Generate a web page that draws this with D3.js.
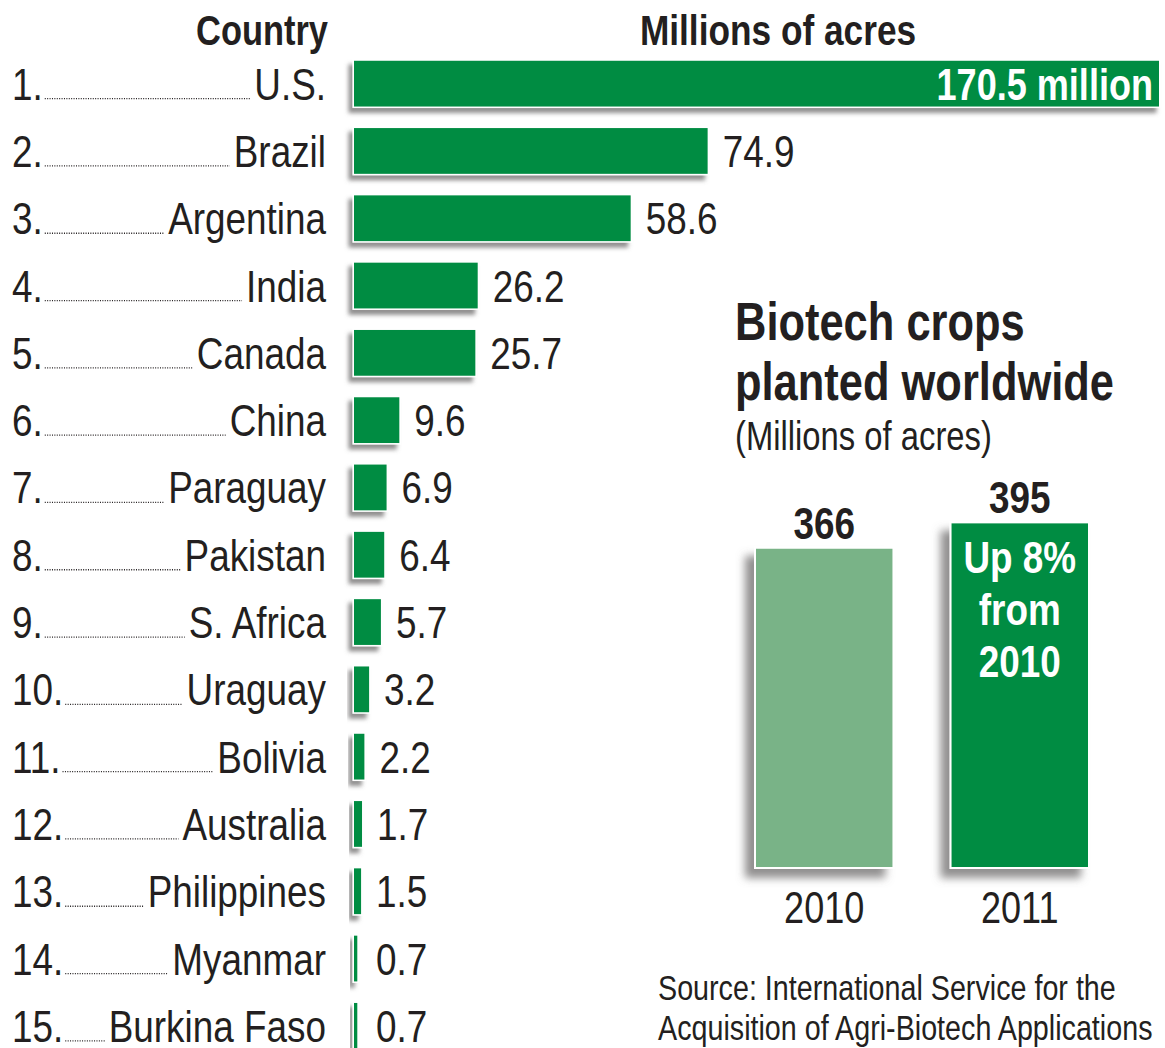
<!DOCTYPE html>
<html>
<head>
<meta charset="utf-8">
<script src="https://cdn.jsdelivr.net/npm/d3@7"></script>
<style>
body { margin: 0; background: #fff; }
text { font-family: 'Liberation Sans', Arial, sans-serif; fill: #231f20; }
</style>
</head>
<body>
<div id="chart"></div>
<script>
var countries = ["U.S.", "Brazil", "Argentina", "India", "Canada", "China", "Paraguay", "Pakistan",
  "S. Africa", "Uraguay", "Bolivia", "Australia", "Philippines", "Myanmar", "Burkina Faso"];
var acres = [170.5, 74.9, 58.6, 26.2, 25.7, 9.6, 6.9, 6.4, 5.7, 3.2, 2.2, 1.7, 1.5, 0.7, 0.7];
var years = ["2010", "2011"];
var totals = [366, 395];
var note = ["Up 8%", "from", "2010"];
var source = ["Source: International Service for the", "Acquisition of Agri-Biotech Applications"];

var width = 1165, height = 1048;
var green = "#008c42", lightGreen = "#79b387";
var squeeze = 0.82;   // condensed type look

var svg = d3.select("#chart").append("svg")
    .attr("width", width)
    .attr("height", height);

// put text at x,y and squeeze it horizontally
function at(x, y) {
  return "translate(" + x + "," + y + ") scale(" + squeeze + ",1)";
}

var defs = svg.append("defs");
function shadow(id, dx, dy, sd) {
  defs.append("filter").attr("id", id)
      .attr("x", "-30%").attr("y", "-30%").attr("width", "160%").attr("height", "170%")
    .append("feDropShadow")
      .attr("dx", dx).attr("dy", dy).attr("stdDeviation", sd)
      .attr("flood-color", "#6d6a6a").attr("flood-opacity", 0.75);
}
shadow("sh-small", -4, 5, 2);
shadow("sh-big", -9, 9, 4);

// ---- left: ranking of countries
var x0 = 354;
var x = d3.scaleLinear().domain([0, 170.5]).range([0, 805]);
var y = d3.scaleBand()
    .domain(countries)
    .range([50, 1059.5])
    .paddingInner(0.32)
    .paddingOuter(0.16);

svg.append("text")
    .attr("transform", at(328, 45))
    .attr("text-anchor", "end")
    .style("font-size", "42px").style("font-weight", "bold")
    .text("Country");

svg.append("text")
    .attr("transform", at(778, 45))
    .attr("text-anchor", "middle")
    .style("font-size", "43px").style("font-weight", "bold")
    .text("Millions of acres");

var rows = svg.selectAll(".row")
    .data(countries)
  .enter().append("g")
    .attr("class", "row")
    .attr("transform", function(d) { return "translate(0," + (y(d) + y.bandwidth() / 2) + ")"; });

// white edge + shadow, then the green bar on top
rows.append("rect")
    .attr("x", x0 - 1.5)
    .attr("y", -y.bandwidth() / 2 - 1.5)
    .attr("width", function(d, i) { return x(acres[i]) + 3; })
    .attr("height", y.bandwidth() + 3)
    .attr("fill", "#fff")
    .attr("filter", "url(#sh-small)");

rows.append("rect")
    .attr("x", x0)
    .attr("y", -y.bandwidth() / 2)
    .attr("width", function(d, i) { return x(acres[i]); })
    .attr("height", y.bandwidth())
    .attr("fill", green);

var rank = rows.append("text")
    .attr("transform", at(12, 16))
    .style("font-size", "45px")
    .text(function(d, i) { return (i + 1) + "."; });

var label = rows.append("text")
    .attr("transform", at(326, 16))
    .attr("text-anchor", "end")
    .style("font-size", "45px")
    .text(function(d) { return d; });

// dotted leaders between rank and country
var rankNodes = rank.nodes(), labelNodes = label.nodes();
rows.each(function(d, i) {
  var start = 12 + rankNodes[i].getComputedTextLength() * squeeze + 2;
  var end = 326 - labelNodes[i].getComputedTextLength() * squeeze - 4;
  d3.select(this).append("line")
      .attr("x1", start).attr("x2", end)
      .attr("y1", 15).attr("y2", 15)
      .attr("stroke", "#231f20")
      .attr("stroke-width", 1.3)
      .attr("stroke-dasharray", "1,1.4");
});

rows.append("text")
    .attr("transform", function(d, i) {
      var px = i === 0 ? x0 + x(acres[i]) - 6 : Math.max(x0 + x(acres[i]) + 15, 376);
      return at(px, 16);
    })
    .attr("text-anchor", function(d, i) { return i === 0 ? "end" : "start"; })
    .style("font-size", function(d, i) { return i === 0 ? "44px" : "45px"; })
    .style("font-weight", function(d, i) { return i === 0 ? "bold" : "normal"; })
    .style("fill", function(d, i) { return i === 0 ? "#fff" : null; })
    .text(function(d, i) { return i === 0 ? acres[i] + " million" : acres[i].toFixed(1); });

// ---- right: totals
svg.append("text")
    .attr("transform", at(735, 340))
    .style("font-size", "53px").style("font-weight", "bold")
    .text("Biotech crops");
svg.append("text")
    .attr("transform", at(735, 400))
    .style("font-size", "53px").style("font-weight", "bold")
    .text("planted worldwide");
svg.append("text")
    .attr("transform", at(735, 450))
    .style("font-size", "40px")
    .text("(Millions of acres)");

var xb = d3.scaleBand().domain(years).range([755, 1089]).paddingInner(0.292);
var yb = d3.scaleLinear().domain([0, 400]).range([868, 518]);

var cols = svg.selectAll(".col")
    .data(years)
  .enter().append("g")
    .attr("class", "col");

cols.append("rect")
    .attr("x", function(d) { return xb(d); })
    .attr("y", function(d, i) { return yb(totals[i]); })
    .attr("width", xb.bandwidth())
    .attr("height", function(d, i) { return yb(0) - yb(totals[i]); })
    .attr("fill", function(d, i) { return i === 0 ? lightGreen : green; })
    .attr("stroke", "#fff")
    .attr("stroke-width", 2)
    .attr("filter", "url(#sh-big)");

cols.append("text")
    .attr("transform", function(d, i) { return at(xb(d) + xb.bandwidth() / 2, yb(totals[i]) - 9); })
    .attr("text-anchor", "middle")
    .style("font-size", "45px").style("font-weight", "bold")
    .text(function(d, i) { return totals[i]; });

cols.append("text")
    .attr("transform", function(d) { return at(xb(d) + xb.bandwidth() / 2, 923); })
    .attr("text-anchor", "middle")
    .style("font-size", "44px")
    .text(function(d) { return d; });

svg.append("g").selectAll("text")
    .data(note)
  .enter().append("text")
    .attr("transform", function(d, i) { return at(xb("2011") + xb.bandwidth() / 2, 573 + i * 52); })
    .attr("text-anchor", "middle")
    .style("font-size", "45px").style("font-weight", "bold")
    .style("fill", "#fff")
    .text(function(d) { return d; });

svg.append("g").selectAll("text")
    .data(source)
  .enter().append("text")
    .attr("transform", function(d, i) { return at(658, 1000 + i * 40); })
    .style("font-size", "35px")
    .text(function(d) { return d; });
</script>
</body>
</html>
